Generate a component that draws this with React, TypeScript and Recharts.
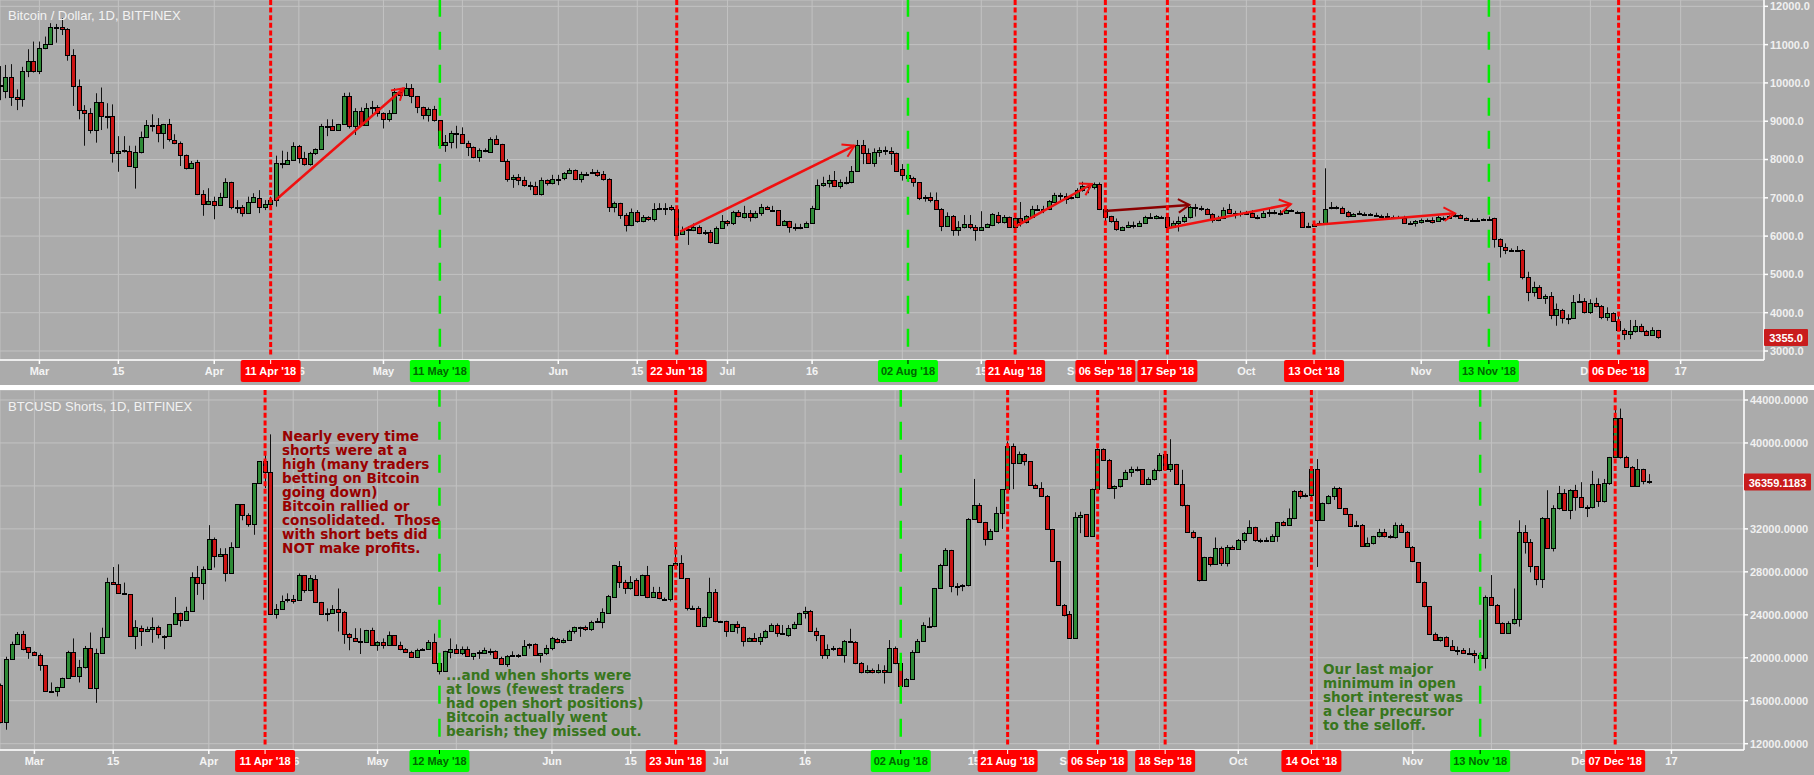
import { Bar, CartesianGrid, ComposedChart, ReferenceLine, XAxis, YAxis } from "recharts";

// rows are [open, high, low, close], one per day
const btcFeb = [[9950,10440,9550,9920],[9800,10470,9600,10150],[10150,10490,9400,9640],[9640,9830,9290,9570],[9570,10420,9380,10300],[10300,10880,10150,10560],[10560,11080,10270,10300]];
const btcMar = [[10300,11080,10230,10900],[10900,11210,10880,11010],[11010,11560,10990,11450],[11450,11540,11050,11460],[11470,11690,11250,11400],[11400,11430,10580,10720],[10720,10880,9400,9910],[9910,10090,9050,9280],[9280,9420,8360,9210],[9210,9340,8680,8760],[8760,9730,8440,9510],[9510,9880,8770,9130],[9130,9470,8810,9120],[9130,9440,7920,8160],[8160,8610,7680,8230],[8230,8610,8180,8240],[8230,8360,7830,7840],[7810,8360,7240,8190],[8190,8730,8160,8600],[8600,9030,8600,8890],[8890,9180,8730,8890],[8890,9080,8450,8680],[8680,8930,8280,8920],[8920,9060,8470,8530],[8500,8660,8400,8440],[8440,8470,7830,8130],[8130,8130,7740,7770],[7770,7960,7750,7920],[7930,7990,7070,7090],[7090,7200,6530,6830],[6830,7250,6810,6920]];
const btcApr = [[6910,7030,6440,6800],[6800,7130,6790,7030],[7030,7510,7030,7400],[7400,7420,6700,6770],[6770,6940,6600,6750],[6770,6810,6510,6600],[6600,7030,6590,6880],[6880,7120,6880,7010],[7000,7200,6600,6770],[6770,6940,6680,6830],[6830,7030,6770,6930],[6930,8100,6770,7900],[7900,8230,7770,7890],[7880,8200,7860,8000],[8000,8450,7990,8340],[8340,8380,7900,8050],[8050,8200,7840,7870],[7870,8200,7840,8160],[8160,8290,8120,8270],[8270,8930,8250,8870],[8870,9050,8610,8880],[8880,9050,8750,8770],[8780,8930,8770,8920],[8930,9740,8930,9650],[9650,9750,8810,8870],[8870,9340,8640,9260],[9260,9360,8890,8910],[8910,9470,8890,9340],[9340,9530,9160,9380],[9380,9420,9120,9220]];
const btcMay = [[9220,9230,8810,9050],[9060,9290,8990,9220],[9220,9860,9200,9750],[9750,9860,9570,9690],[9690,9990,9680,9860],[9860,9970,9470,9650],[9650,9660,9210,9360],[9360,9380,9050,9170],[9170,9360,8990,9310],[9310,9400,8990,9020],[9020,9020,8330,8390],[8390,8640,8200,8470],[8470,8750,8290,8680],[8680,8880,8290,8670],[8660,8840,8420,8440],[8440,8490,8090,8320],[8320,8340,8030,8060],[8060,8290,7940,8240],[8240,8290,8190,8230],[8200,8580,8180,8530],[8530,8630,8380,8400],[8400,8410,7940,7970],[7970,8010,7420,7480],[7480,7600,7260,7550],[7550,7620,7330,7460],[7460,7550,7290,7330],[7330,7420,7200,7320],[7320,7420,7070,7090],[7090,7530,7060,7460],[7460,7480,7320,7380],[7380,7600,7350,7480]];
const btcJun = [[7480,7600,7330,7490],[7510,7670,7460,7640],[7640,7770,7620,7720],[7720,7740,7460,7480],[7480,7680,7400,7620],[7620,7670,7600,7630],[7640,7750,7620,7680],[7680,7730,7550,7600],[7610,7700,7450,7480],[7480,7510,6630,6750],[6750,6900,6620,6860],[6860,6870,6450,6540],[6540,6600,6120,6280],[6280,6720,6260,6630],[6630,6680,6350,6390],[6390,6550,6360,6490],[6490,6520,6400,6440],[6440,6860,6380,6700],[6700,6860,6680,6730],[6730,6860,6550,6740],[6750,6810,6660,6700],[6700,6770,5940,6040],[6050,6250,6030,6150],[6150,6260,5770,6180],[6160,6330,6130,6240],[6250,6280,6050,6070],[6070,6160,6030,6120],[6120,6160,5810,5840],[5830,6250,5810,6200],[6200,6550,6190,6390]];
const btcJul = [[6390,6420,6260,6330],[6330,6660,6290,6620],[6620,6680,6490,6520],[6510,6790,6460,6600],[6600,6680,6380,6510],[6510,6660,6460,6600],[6600,6840,6530,6750],[6750,6790,6680,6700],[6690,6790,6640,6680],[6670,6680,6280,6300],[6300,6420,6280,6390],[6390,6400,6090,6250],[6250,6330,6140,6200],[6200,6320,6180,6250],[6250,6380,6230,6330],[6330,6790,6320,6730],[6710,7480,6700,7330],[7330,7550,7290,7390],[7380,7600,7270,7460],[7460,7700,7290,7320],[7320,7480,7240,7400],[7400,7550,7350,7410],[7400,7830,7380,7710],[7710,8510,7690,8370],[8370,8510,7880,8160],[8160,8290,7900,7920],[7920,8290,7810,8190],[8190,8320,8070,8240],[8240,8340,8120,8220],[8210,8320,7860,8160],[8160,8180,7690,7710]];
const btcAug = [[7740,7880,7450,7590],[7600,7730,7420,7530],[7530,7550,7290,7400],[7400,7410,6940,7000],[7010,7070,6900,7000],[7010,7140,6880,6930],[6930,7140,6700,6710],[6720,6730,6130,6270],[6270,6620,6250,6520],[6520,6550,6010,6150],[6150,6390,6010,6230],[6230,6550,6200,6310],[6310,6550,6180,6250],[6250,6290,5880,6170],[6170,6650,6150,6250],[6250,6330,6230,6310],[6300,6600,6260,6570],[6560,6630,6320,6380],[6380,6550,6330,6490],[6490,6510,6230,6250],[6250,6550,6230,6460],[6460,6890,6250,6360],[6360,6550,6330,6520],[6510,6790,6490,6700],[6700,6810,6680,6720],[6720,6790,6600,6710],[6700,6940,6680,6910],[6900,7130,6890,7070],[7070,7130,6940,7060],[7040,7120,6840,6980],[6990,7070,6960,7010]];
const btcSep = [[7010,7250,6990,7200],[7200,7420,7160,7300],[7300,7350,7120,7290],[7280,7400,7220,7350],[7350,7400,6680,6700],[6700,6730,6320,6510],[6520,6530,6350,6390],[6390,6460,6140,6180],[6170,6250,6140,6230],[6230,6380,6210,6300],[6300,6380,6200,6290],[6270,6400,6250,6330],[6330,6530,6320,6490],[6490,6600,6450,6480],[6470,6550,6440,6520],[6500,6530,6460,6490],[6490,6510,6230,6250],[6250,6400,6230,6330],[6330,6510,6120,6390],[6390,6550,6350,6490],[6490,6790,6460,6750],[6750,6840,6510,6740],[6730,6790,6660,6720],[6700,6730,6550,6570],[6570,6600,6350,6430],[6420,6530,6390,6480],[6460,6750,6450,6670],[6700,6840,6580,6610],[6610,6660,6460,6600],[6610,6660,6510,6600]];
const btcOct = [[6610,6660,6550,6600],[6610,6680,6490,6510],[6510,6550,6440,6500],[6490,6660,6470,6600],[6600,6720,6500,6640],[6640,6680,6570,6600],[6600,6680,6540,6610],[6600,6730,6580,6670],[6670,6700,6640,6660],[6640,6660,6600,6630],[6630,6640,6220,6250],[6270,6350,6210,6260],[6270,6400,6250,6320],[6330,6400,6290,6340],[6330,7770,6310,6720],[6740,6890,6700,6750],[6750,6790,6700,6740],[6740,6770,6580,6610],[6620,6660,6490,6520],[6520,6600,6500,6570],[6590,6660,6550,6600],[6590,6620,6540,6580],[6570,6600,6530,6560],[6550,6610,6510,6540],[6530,6560,6480,6520],[6520,6600,6490,6510],[6510,6540,6470,6500],[6490,6530,6470,6480],[6480,6530,6320,6340],[6340,6390,6320,6350],[6350,6420,6250,6390]];
const btcNov = [[6360,6460,6330,6420],[6420,6460,6380,6410],[6420,6490,6330,6380],[6390,6530,6370,6500],[6480,6510,6400,6470],[6470,6540,6450,6520],[6520,6600,6490,6560],[6560,6570,6450,6460],[6460,6490,6400,6410],[6430,6460,6390,6420],[6430,6470,6390,6420],[6430,6460,6410,6440],[6440,6510,6400,6450],[6460,6480,5700,5920],[5920,5940,5440,5730],[5720,5810,5530,5650],[5640,5680,5590,5630],[5640,5740,5590,5650],[5650,5660,4870,4920],[4920,5070,4300,4550],[4550,4810,4420,4660],[4660,4720,4360,4380],[4380,4480,4230,4430],[4430,4540,3830,3930],[3930,4240,3660,4090],[4080,4100,3720,3850],[3860,3960,3700,3870],[3870,4460,3850,4290],[4290,4490,4260,4310],[4310,4380,3980,4030]];
const btcDec = [[4030,4350,3970,4250],[4250,4390,4140,4170],[4170,4200,3830,3900],[3900,4140,3790,3980],[3980,4010,3760,3780],[3780,3940,3520,3540],[3540,3590,3290,3450],[3450,3810,3310,3510],[3510,3810,3480,3640],[3640,3710,3490,3510],[3510,3550,3400,3430],[3430,3620,3410,3540],[3540,3550,3320,3355]];

const shortsFeb = [[17500,17600,13900,14000],[14000,20100,13300,19900],[19900,21500,19900,21300],[21300,22400,21300,22200],[22200,22500,20700,20800],[21000,21000,19900,20500]];
const shortsMar = [[20500,20600,20250,20300],[20300,20400,18800,19300],[19300,19300,16950,16950],[16900,17700,16850,16950],[16900,17300,16400,17250],[17250,18150,17200,18100],[18100,20650,18050,20550],[20550,21800,18250,18300],[18300,19800,17700,19100],[19100,21100,19000,20950],[20950,22350,17100,17150],[17150,20850,15800,20400],[20400,22800,20350,21950],[21950,27450,21950,27100],[27100,28450,26800,26900],[26900,28700,26000,26050],[26050,27000,25850,25900],[25900,25900,21950,22000],[22000,23500,20800,22850],[22750,23000,21100,22500],[22500,22900,22400,22700],[22700,23750,21400,22900],[22900,23000,21800,22250],[22000,22100,20800,22050],[22000,23150,21950,23100],[23100,25650,23050,24200],[24200,24200,22900,23550],[23550,24750,23500,24400],[24400,27950,24350,27500],[27500,28550,25850,27000],[27000,28500,25400,28250]];
const shortsApr = [[28250,32350,28200,31100],[31100,31200,28400,29450],[29450,30200,29400,29700],[29700,30200,27100,27850],[27850,30750,27800,30350],[30350,34300,30350,34300],[34300,34300,32800,33250],[33250,33450,32200,32500],[32500,36250,31450,36250],[36250,38300,36200,38300],[38300,39200,35800,37250],[37250,40800,24000,24050],[24050,25000,23650,24550],[24550,25800,24500,25300],[25400,26000,25150,25450],[25450,25850,25050,25300],[25350,27850,25300,27700],[27700,27700,26050,26300],[26300,27700,26200,27400],[27300,27700,25100,25150],[25150,25200,24000,24100],[24150,24600,23400,24200],[24200,24900,24150,24550],[24550,26450,22450,24300],[24300,24350,21300,22250],[22200,22300,20700,21900],[21800,22750,21500,21600],[21600,22750,20350,21450],[21450,22600,21400,22550],[22550,22800,21100,21150]];
const shortsMay = [[21150,21550,20650,21500],[21500,21800,20850,21200],[21200,22450,21150,22100],[22100,22100,21100,21200],[21200,21500,20700,20800],[20800,20900,20450,20550],[20550,20650,20100,20100],[20100,20850,20000,20750],[20800,20900,20700,20850],[20850,21650,20800,21450],[21450,22250,19550,19550],[19550,19800,18450,18800],[18800,20650,18800,20600],[20550,21800,19950,20850],[20850,21250,20350,20400],[20400,21050,20250,20850],[20850,21050,20100,20200],[20200,20450,19800,20400],[20450,20700,19900,20500],[20400,20950,20350,20700],[20650,20850,20250,20600],[20600,20700,19950,20000],[20000,20100,19350,19400],[19400,20250,19150,20200],[20200,20600,20150,20250],[20250,20350,20000,20300],[20300,21650,20250,21100],[21200,21350,20850,21250],[21250,21350,20200,20250],[20250,20400,19550,20400],[20400,21200,20250,20950]];
const shortsJun = [[20950,21950,20700,21800],[21750,21850,21350,21450],[21450,21800,21350,21700],[21700,22600,21650,22500],[22500,22900,22250,22850],[22850,22900,21950,22800],[22850,23000,22500,22650],[22650,23450,22500,23350],[23350,23700,23300,23400],[23350,24600,22750,24250],[24200,25850,24150,25750],[25700,28650,25650,28600],[28500,29000,26500,27100],[27100,27250,25950,26450],[26450,27600,26350,27100],[27200,27400,25800,25800],[25800,27750,25750,27700],[27700,28550,25550,25700],[25700,26600,25600,26150],[26150,26600,25450,25550],[25500,25600,25450,25450],[25450,28650,25250,28600],[28600,30600,28450,28800],[28800,29550,27350,27400],[27400,27400,24400,24650],[24650,24850,24450,24600],[24600,24800,22950,23000],[23000,23850,22900,23750],[23750,27450,23650,26100],[26100,26400,23300,23400]];
const shortsJul = [[23400,23450,23300,23350],[23400,23450,21950,22450],[22450,23150,22400,23100],[23100,23400,22250,22850],[22850,22900,21050,21600],[21600,21900,21550,21800],[21800,22300,21500,21600],[21600,22300,21200,21900],[21900,22600,21800,22450],[22450,23200,22400,23050],[23050,23200,21950,22350],[22350,23050,22250,22300],[22100,23050,21950,22750],[22750,23350,22650,23100],[23100,24200,23050,24150],[24150,24750,23650,24400],[24400,24450,22400,22450],[22450,22800,21550,22100],[22100,22100,19900,20300],[20300,21250,19900,20800],[20800,21100,20650,20900],[20900,20950,20250,20300],[20300,21650,19550,21600],[21600,22700,21500,21550],[21500,21550,19400,19500],[19500,19600,18550,18650],[18650,19300,18550,18900],[18900,19000,18550,18650],[18650,19400,18550,18900],[18900,19300,17600,18650],[18650,21650,18600,20950]];
const shortsAug = [[20950,21050,19400,19500],[19500,19550,17350,17400],[17400,18100,17350,18000],[18000,20700,17950,20500],[20500,21750,20450,21600],[21600,23300,21550,23050],[23000,23750,22850,22950],[22950,26500,22850,26450],[26450,28750,26400,28600],[28600,30200,28550,30000],[30000,30050,26100,26650],[26700,26950,25800,26650],[26700,26850,26200,26750],[26750,33000,26650,32900],[32900,36650,32850,34200],[34200,34400,32550,32600],[32600,32650,30450,31100],[31100,32000,31050,31800],[31800,34050,31700,33450],[33450,35700,32000,35700],[35700,40150,35600,39700],[39700,39950,35700,38150],[38150,39200,38100,38950],[38950,39050,37900,38300],[38300,38300,36000,36050],[36050,36200,35800,35850],[35850,36350,35050,35100],[35100,35150,31900,31950],[31950,32000,28950,29000],[29000,29000,24900,24950],[24950,25000,23850,23950]];
const shortsSep = [[24050,24350,21750,21800],[21800,33550,21750,33150],[33150,33600,31600,33300],[33350,33350,31250,31350],[31350,35750,31250,35700],[35700,39500,35650,39400],[39400,39500,38400,38450],[38450,38500,35700,35800],[35800,36050,34800,35950],[35950,36650,35850,36600],[36600,37500,36550,37250],[37250,37800,36850,37550],[37550,37800,37350,37500],[37550,37550,36150,36200],[36200,36800,36150,36600],[36600,37600,36500,37450],[37450,39050,37350,38850],[38950,39150,37500,37550],[37550,40350,37300,38000],[38000,38050,36100,36150],[36150,37500,34100,34200],[34200,34250,31700,31750],[31750,31850,31100,31200],[31200,31250,27100,27250],[27250,29400,27200,29350],[29350,29400,28500,28700],[28700,31200,28650,30200],[30200,30350,28550,28850],[28850,30500,28500,30350],[30350,30450,30050,30150]];
const shortsOct = [[30150,31050,30100,31000],[31000,31700,30700,31600],[31600,32800,31550,32150],[32150,32200,30800,30950],[30950,31100,30700,30950],[30950,31200,30850,30900],[30900,31500,30850,31300],[31300,32650,30800,32600],[32600,32750,32250,32400],[32400,33900,32350,33000],[33000,35600,32900,35500],[35500,35600,34800,35050],[35050,35300,34950,35200],[35200,37650,34850,37550],[37550,38500,28450,32850],[32850,34450,32800,34400],[34400,35150,34300,35100],[35100,35950,34700,35800],[35800,35900,33850,33900],[33900,33950,33300,33350],[33350,33400,32250,32300],[32350,32750,32200,32300],[32400,32450,30350,30450],[30450,31200,30350,30650],[30650,31350,30550,31300],[31300,32000,31200,31700],[31700,32000,31200,31300],[31300,31450,31100,31250],[31200,32600,31100,32400],[32400,32500,31700,31750],[31750,31800,30300,30350]];
const shortsNov = [[30350,30400,28900,29000],[28900,28900,27000,27100],[27100,27100,24700,24800],[24800,24800,22200,22250],[22250,22350,21600,21700],[21700,21950,21500,21900],[21900,22000,21000,21050],[21050,21650,20700,20750],[20750,21050,20250,20700],[20700,20900,20400,20450],[20450,20900,20300,20400],[20450,20700,19500,20250],[20250,20500,19650,20000],[20000,25800,19000,25700],[25700,27700,24850,24950],[24950,25000,23200,23250],[23250,23300,22250,22350],[22350,23400,22250,23200],[23200,26450,23100,23650],[23650,32800,22900,31700],[31700,32350,29700,30800],[30800,31050,27950,28500],[28500,28500,26750,27350],[27350,33100,26500,33050],[33050,35600,30200,30250],[30250,34200,29900,33900],[33900,36000,33800,35300],[35300,35700,33750,33800],[33800,35700,32900,35650],[35650,36100,33700,35000]];
const shortsDec = [[35000,36350,34000,34050],[34050,34200,33100,34000],[34000,37400,33900,36150],[36150,36700,34050,34550],[34550,36650,34450,36250],[36250,38700,36100,38650],[38650,43300,38600,42300],[42300,43200,38550,38650],[38700,38800,37700,37800],[37800,37850,35950,36000],[36000,38500,35950,37550],[37550,37600,36150,36450],[36450,37100,36200,36359]];

// days counted from 1 Mar 2018; an empty label sits fully behind a date tag
const tickDays = [0,14,31,46,61,75,92,106,122,137,153,167,184,200,214,228,245,259,275,291];
const tickLabels = ["Mar","15","Apr","16","May","","Jun","15","Jul","16","","15","Sep","","Oct","","Nov","","Dec","17"];
const btcTicks = [3000,4000,5000,6000,7000,8000,9000,10000,11000,12000];
const shortsTicks = [12000,16000,20000,24000,28000,32000,36000,40000,44000];

const btcMarkerDays = [41,71,113,154,173,189,200,226,257,280];
const btcMarkerLabels = ["11 Apr '18","11 May '18","22 Jun '18","02 Aug '18","21 Aug '18","06 Sep '18","17 Sep '18","13 Oct '18","13 Nov '18","06 Dec '18"];
const shortsMarkerDays = [41,72,114,154,173,189,201,227,257,281];
const shortsMarkerLabels = ["11 Apr '18","12 May '18","23 Jun '18","02 Aug '18","21 Aug '18","06 Sep '18","18 Sep '18","14 Oct '18","13 Nov '18","07 Dec '18"];
const greenMarkers = ["11 May '18","12 May '18","02 Aug '18","13 Nov '18"];

// [from day, from price, to day, to price]
const btcArrows = [[41.9,6943,64.6,9859],[113.6,6116,144.5,8361],[173,6246,186.6,7360],[188.9,6655,203.9,6812],[200,6203,221.9,6838],[226,6290,251,6595]];
const arrowColors = ["#f01010","#f01010","#f01010","#8b0000","#f01010","#f01010"];

const redNote = ["Nearly every time","shorts were at a","high (many traders","betting on Bitcoin","going down)","Bitcoin rallied or","consolidated.  Those","with short bets did","NOT make profits."];
const greenNote = ["...and when shorts were","at lows (fewest traders","had open short positions)","Bitcoin actually went","bearish; they missed out."];
const selloffNote = ["Our last major","minimum in open","short interest was","a clear precursor","to the selloff."];

const GRAY = "#ababab";
const GRID = "#c2c2c2";
const AXIS_FONT = "'Liberation Sans', Arial, sans-serif";

function toCandles(rows: number[][], firstDay: number) {
  return rows.map((r, i) => ({ day: firstDay + i, open: r[0], high: r[1], low: r[2], close: r[3] }));
}

const btcCandles = toCandles([...btcFeb, ...btcMar, ...btcApr, ...btcMay, ...btcJun, ...btcJul, ...btcAug, ...btcSep, ...btcOct, ...btcNov, ...btcDec], -7);
const shortsCandles = toCandles([...shortsFeb, ...shortsMar, ...shortsApr, ...shortsMay, ...shortsJun, ...shortsJul, ...shortsAug, ...shortsSep, ...shortsOct, ...shortsNov, ...shortsDec], -6);

function Candle(props: any) {
  const { x, y, width, height, payload } = props;
  const { open, high, low, close } = payload;
  const perUnit = height / (high - low);
  const cx = Math.round(x + width / 2);
  const top = Math.round(y + (high - Math.max(open, close)) * perUnit);
  const bottom = Math.round(y + (high - Math.min(open, close)) * perUnit);
  const fill = close >= open ? "#2e8b37" : "#cc1414";
  return (
    <g>
      <line x1={cx + 0.5} x2={cx + 0.5} y1={y} y2={y + height} stroke="#111" strokeWidth={1} />
      <rect x={cx - 1.5} y={top + 0.5} width={4} height={Math.max(bottom - top, 1)} fill={fill} stroke="#000" strokeWidth={1} />
    </g>
  );
}

function markerLine(label: string) {
  const green = greenMarkers.includes(label);
  return (props: any) => {
    const { x1, y1, y2 } = props;
    const top = Math.min(y1, y2);
    const bottom = Math.max(y1, y2);
    return (
      <g>
        <line
          x1={x1} x2={x1} y1={top} y2={bottom - 4}
          stroke={green ? "#00ee00" : "#ff0000"}
          strokeWidth={green ? 2.5 : 3}
          strokeDasharray={green ? "18 15" : "5 2.6"}
          strokeDashoffset={green ? 1.3 : 0}
        />
        <rect x={x1 - 30} y={bottom} width={60} height={22} rx={2} fill={green ? "#00ff00" : "#ff0000"} />
        <line x1={x1} x2={x1} y1={bottom} y2={bottom + 4} stroke={green ? "#000" : "#fff"} />
        <text x={x1} y={bottom + 15} textAnchor="middle" fontFamily={AXIS_FONT} fontWeight="bold" fontSize={11} fill={green ? "#006600" : "#ffffff"}>{label}</text>
      </g>
    );
  };
}

function arrowLine(color: string) {
  return (props: any) => {
    const { x1, y1, x2, y2 } = props;
    const angle = Math.atan2(y2 - y1, x2 - x1);
    const wing = (a: number) => ({ x: x2 - 13 * Math.cos(angle + a), y: y2 - 13 * Math.sin(angle + a) });
    const a = wing(0.55);
    const b = wing(-0.55);
    return (
      <g stroke={color} strokeWidth={2.5} fill="none">
        <line x1={x1} y1={y1} x2={x2} y2={y2} />
        <polyline points={`${a.x},${a.y} ${x2},${y2} ${b.x},${b.y}`} strokeWidth={2} />
      </g>
    );
  };
}

function priceTag(text: string, width: number) {
  return (props: any) => {
    const { x1, x2, y1 } = props;
    const left = Math.max(x1, x2);
    return (
      <g>
        <rect x={left} y={y1 - 8.5} width={width} height={17} rx={1} fill="#c91c1c" />
        <text x={left + width / 2} y={y1 + 4.5} textAnchor="middle" fontFamily={AXIS_FONT} fontWeight="bold" fontSize={11} fill="#fff">{text}</text>
      </g>
    );
  };
}

function Note({ lines, left, top, color }: { lines: string[]; left: number; top: number; color: string }) {
  return (
    <div style={{ position: "absolute", left, top, color, fontFamily: "'DejaVu Sans', sans-serif", fontWeight: "bold", fontSize: 13.6, lineHeight: "14px", whiteSpace: "pre" }}>
      {lines.join("\n")}
    </div>
  );
}

function Title({ text, top }: { text: string; top: number }) {
  return <div style={{ position: "absolute", left: 8, top, color: "#f2f2f2", fontFamily: AXIS_FONT, fontSize: 13, lineHeight: "14px" }}>{text}</div>;
}

type PaneProps = {
  data: any[];
  xDomain: number[];
  yDomain: number[];
  yTicks: number[];
  yWidth: number;
  digits: number;
  markerDays: number[];
  markerLabels: string[];
  arrows: number[][];
  lastPrice: number;
  lastText: string;
  tagWidth: number;
};

function Pane(p: PaneProps) {
  return (
    <>
      <ComposedChart width={1814} height={385} data={p.data} margin={{ top: 0, right: 0, bottom: 0, left: 0 }}>
        <CartesianGrid stroke={GRID} strokeWidth={1} />
        <Bar dataKey={(d: any) => [d.low, d.high]} barSize={5} shape={Candle} isAnimationActive={false} />
        <XAxis
          dataKey="day" type="number" domain={p.xDomain} allowDataOverflow ticks={tickDays} interval={0} height={25}
          tickFormatter={(v: number) => tickLabels[tickDays.indexOf(v)]}
          tickSize={4} tickMargin={3} stroke="#fff" strokeWidth={1.5}
          tick={{ fill: "#f4f4f4", fontSize: 11, fontWeight: "bold", fontFamily: AXIS_FONT }}
        />
        <YAxis
          orientation="right" type="number" domain={p.yDomain} allowDataOverflow ticks={p.yTicks} interval={0} width={p.yWidth}
          tickFormatter={(v: number) => v.toFixed(p.digits)}
          tickSize={4} tickMargin={2} stroke="#fff" strokeWidth={1.5}
          tick={{ fill: "#f0f0f0", fontSize: 11, fontWeight: "bold", fontFamily: AXIS_FONT }}
        />
      </ComposedChart>
      {/* second chart on the same scales, so the date tags cover the axis labels */}
      <div style={{ position: "absolute", left: 0, top: 0 }}>
        <ComposedChart width={1814} height={385} data={p.data} margin={{ top: 0, right: p.yWidth, bottom: 25, left: 0 }}>
          <XAxis hide dataKey="day" type="number" domain={p.xDomain} allowDataOverflow />
          <YAxis hide type="number" domain={p.yDomain} allowDataOverflow />
          {p.arrows.map((a, i) => (
            <ReferenceLine key={i} ifOverflow="visible" segment={[{ x: a[0], y: a[1] }, { x: a[2], y: a[3] }]} shape={arrowLine(arrowColors[i])} />
          ))}
          {p.markerDays.map((day, i) => (
            <ReferenceLine key={day} x={day} ifOverflow="visible" shape={markerLine(p.markerLabels[i])} />
          ))}
          <ReferenceLine y={p.lastPrice} ifOverflow="visible" shape={priceTag(p.lastText, p.tagWidth)} />
        </ComposedChart>
      </div>
    </>
  );
}

export default function App() {
  return (
    <div style={{ position: "absolute", left: 0, top: 0, width: 1814, height: 775, background: "#fff", overflow: "hidden" }}>
      <div style={{ position: "absolute", left: 0, top: 0, width: 1814, height: 385, background: GRAY }}>
        <Pane
          data={btcCandles} xDomain={[-6.99, 305.78]} yDomain={[2765, 12165]} yTicks={btcTicks} yWidth={50} digits={1}
          markerDays={btcMarkerDays} markerLabels={btcMarkerLabels} arrows={btcArrows} lastPrice={3355} lastText="3355.0" tagWidth={44}
        />
      </div>
      <div style={{ position: "absolute", left: 0, top: 390, width: 1814, height: 385, background: GRAY }}>
        <Pane
          data={shortsCandles} xDomain={[-6.12, 303.9]} yDomain={[11413, 44931]} yTicks={shortsTicks} yWidth={70} digits={4}
          markerDays={shortsMarkerDays} markerLabels={shortsMarkerLabels} arrows={[]} lastPrice={36359} lastText="36359.1183" tagWidth={67}
        />
      </div>
      <Title text="Bitcoin / Dollar, 1D, BITFINEX" top={9} />
      <Title text="BTCUSD Shorts, 1D, BITFINEX" top={400} />
      <Note lines={redNote} left={282} top={429} color="#990000" />
      <Note lines={greenNote} left={446} top={668} color="#38761d" />
      <Note lines={selloffNote} left={1323} top={662} color="#38761d" />
    </div>
  );
}
